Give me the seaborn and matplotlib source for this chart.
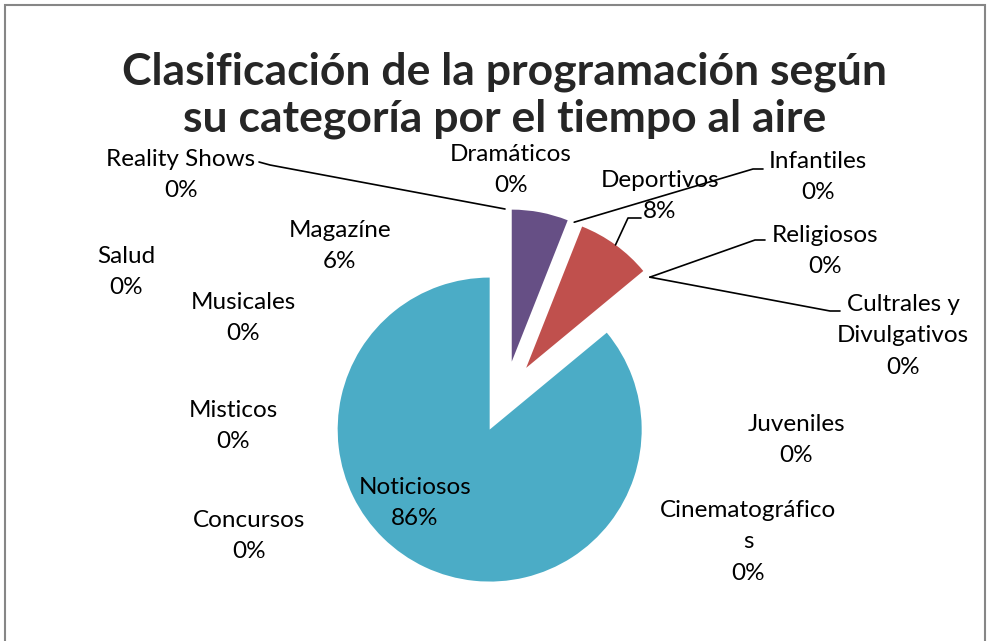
import numpy as np
import matplotlib.pyplot as plt
import seaborn as sns
from matplotlib.patches import Rectangle

# data, clockwise from 12 o'clock
categories = ["Dramáticos", "Magazíne", "Infantiles", "Deportivos", "Religiosos",
              "Cultrales y\nDivulgativos", "Juveniles", "Cinematográfico\ns",
              "Noticiosos", "Concursos", "Misticos", "Musicales", "Salud",
              "Reality Shows"]
values = [0, 6, 0, 8, 0, 0, 0, 0, 86, 0, 0, 0, 0, 0]
colors = ["#4f81bd", "#664f85", "#9bbb59", "#c0504d", "#f79646", "#4f81bd",
          "#9bbb59", "#f79646", "#4bacc6", "#4f81bd", "#c0504d", "#9bbb59",
          "#8064a2", "#f79646"]

# label positions in pixels (centre of text block)
label_pos = {
    "Dramáticos": (511, 170),
    "Magazíne": (340, 246),
    "Infantiles": (818, 177),
    "Deportivos": (660, 196),
    "Religiosos": (825, 251),
    "Cultrales y\nDivulgativos": (903, 336),
    "Juveniles": (796, 440),
    "Cinematográfico\ns": (748, 542),
    "Noticiosos": (415, 503),
    "Concursos": (249, 536),
    "Misticos": (233, 426),
    "Musicales": (243, 318),
    "Salud": (126, 272),
    "Reality Shows": (181, 175),
}
# leaders: category -> (label end x, y)
leaders = {
    "Reality Shows": [(259, 162), (270, 165)],
    "Infantiles": [(763, 169), (753, 169)],
    "Religiosos": [(765, 240), (755, 240)],
    "Cultrales y\nDivulgativos": [(840, 311), (830, 311)],
    "Deportivos": [(641, 218), (628, 218)],
}

sns.set_style("white")
plt.rcParams["font.family"] = ["Lato", "DejaVu Sans"]

W, H = 990, 641
fig = plt.figure(figsize=(9.9, 6.41), dpi=100)
ax = fig.add_axes([0, 0, 1, 1])

total = sum(values)
wedges, _ = ax.pie(values, colors=colors, startangle=90, counterclock=False,
                   explode=[36] * len(values), center=(505, H - 397), radius=152,
                   wedgeprops=dict(linewidth=0))
ax.set_xlim(0, W)
ax.set_ylim(0, H)
ax.set_aspect("equal")
ax.axis("off")


def wedge_point(w):
    # outer point at the middle of the wedge
    a = np.deg2rad((w.theta1 + w.theta2) / 2)
    cx, cy = w.center
    return cx + w.r * np.cos(a), cy + w.r * np.sin(a)


for cat, v, w in zip(categories, values, wedges):
    pct = f"{round(100 * v / total)}%"
    x, y = label_pos[cat]
    ax.text(x, H - y, f"{cat}\n{pct}", ha="center", va="center",
            fontsize=17.5, linespacing=1.6, color="black")
    if cat in leaders:
        pts = leaders[cat] + [wedge_point(w)]
        xs = [p[0] for p in pts]
        ys = [H - p[1] if i < len(pts) - 1 else p[1] for i, p in enumerate(pts)]
        ax.plot(xs, ys, color="black", lw=1.2)

ax.text(505, H - 95, "Clasificación de la programación según\nsu categoría por el tiempo al aire",
        ha="center", va="center", fontsize=32, fontweight="bold", linespacing=1.2)

ax.add_patch(Rectangle((5, -20), 980, H - 5 + 20, fill=False, edgecolor="#868686",
                       lw=1.5, clip_on=False))

fig.savefig("out.png", dpi=100)
